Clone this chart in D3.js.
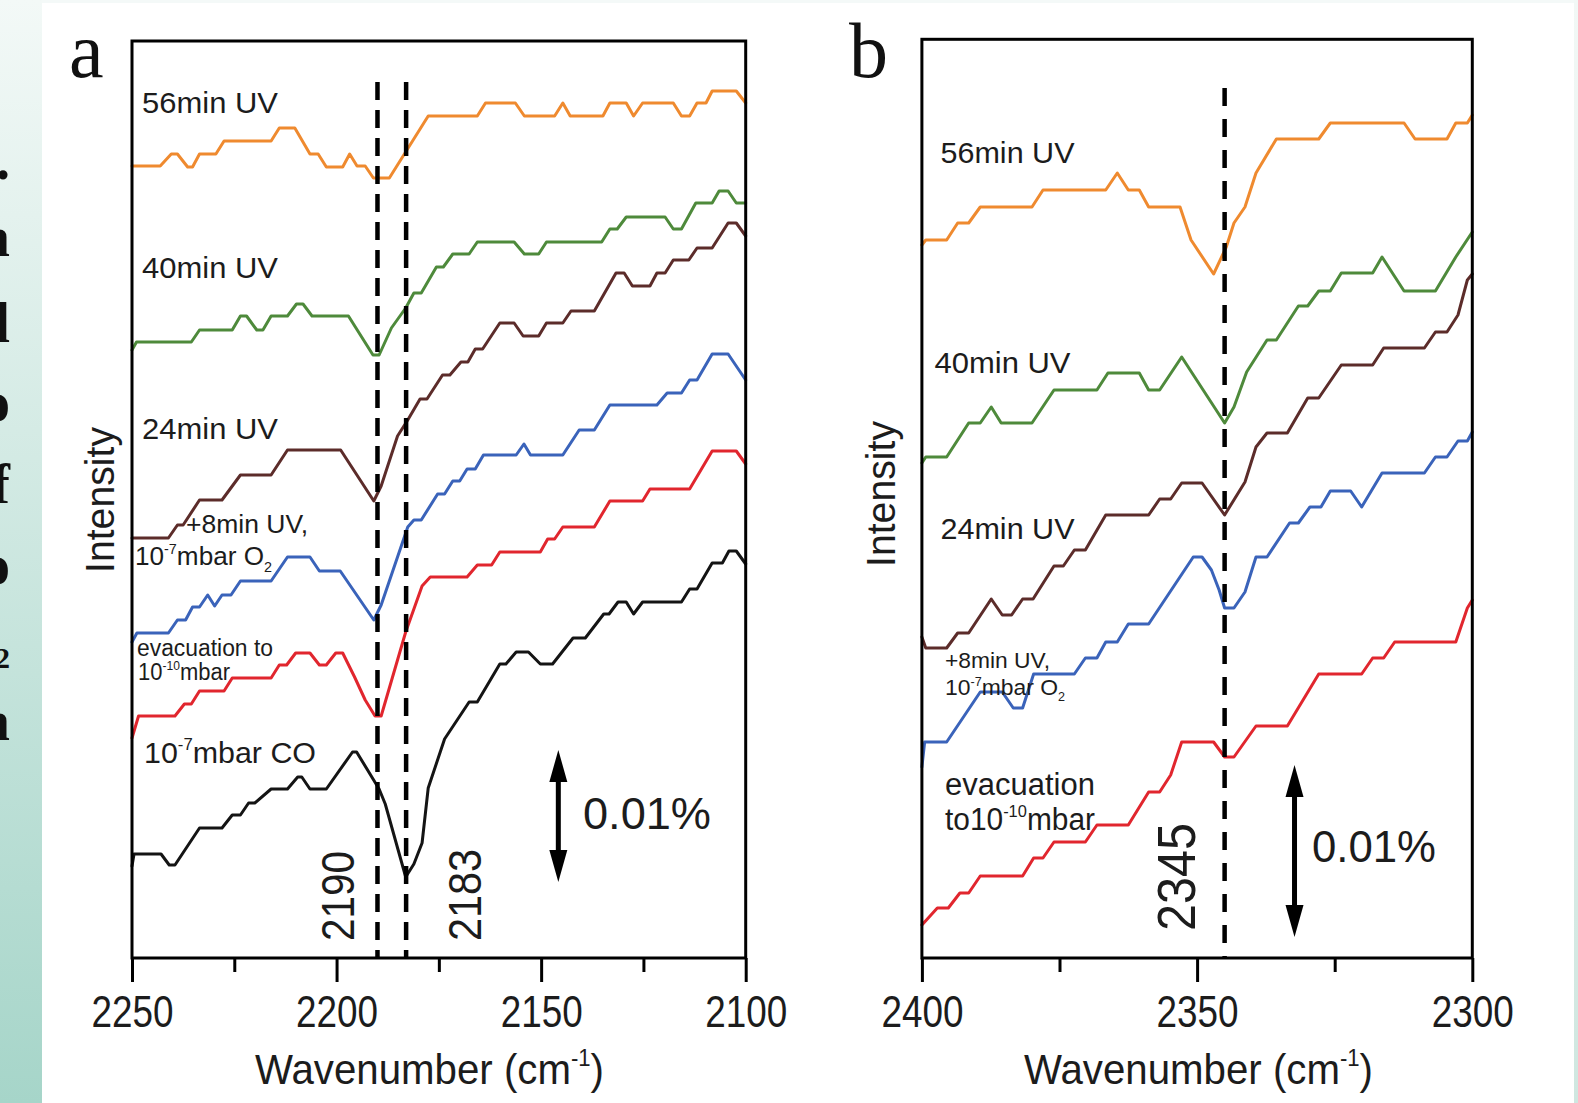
<!DOCTYPE html>
<html>
<head>
<meta charset="utf-8">
<script src="https://cdn.jsdelivr.net/npm/d3@7"></script>
<style>
  html, body { margin: 0; padding: 0; background: #ffffff; overflow: hidden; }
  svg { display: block; }
</style>
</head>
<body>
<svg id="chart" width="1578" height="1103"></svg>
<script>
// ---------------- DATA (wavenumber in cm^-1, intensity in arbitrary offset units) ----------------
// Panel a : CO region
const a56min = [[2250,792],[2243.1,792],[2240.4,804],[2238.9,804],[2236.4,791],[2235.2,791],[2233.5,804],[2229.5,804],[2227.5,817],[2216,817],[2214,830],[2210.2,830],[2206.5,804],[2204.5,804],[2202.5,791],[2198.5,791],[2196.8,804],[2195,792],[2193,792],[2191,780],[2187.1,780],[2177.6,842],[2165.6,842],[2163.6,855],[2156.3,855],[2154.1,842],[2146.7,842],[2144.7,855],[2142.9,842],[2134.9,842],[2133.2,855],[2129.2,855],[2127.4,842],[2125.2,855],[2117.7,855],[2115.7,842],[2113.7,842],[2111.9,855],[2109.7,855],[2108.2,867],[2102.3,867],[2100,855]];
const a40min = [[2250,608],[2248.9,616],[2235.5,616],[2233.5,628],[2225.5,628],[2223.5,642],[2222,642],[2219.5,628],[2218,628],[2216,642],[2212,642],[2209.8,654],[2208.2,654],[2206,642],[2197.1,642],[2191.1,603],[2189.6,603],[2186.6,630],[2183.1,650],[2181.1,665],[2179.3,665],[2175.6,691],[2173.9,691],[2171.6,704],[2167.6,704],[2165.6,716],[2156.6,716],[2154.1,704],[2150.6,704],[2148.7,716],[2135.2,716],[2133.2,729],[2131.4,729],[2129.2,741],[2119.7,741],[2117.7,729],[2115.7,729],[2112.2,755],[2108.2,755],[2106.5,767],[2104.3,767],[2102.3,755],[2100,755]];
const a24min = [[2250,420],[2241.1,420],[2238.9,433],[2237.5,433],[2233.5,458],[2228,458],[2223.5,483],[2216,483],[2212,508],[2199,508],[2190.9,457],[2189.1,472],[2185.1,522],[2182.6,538],[2179.6,559],[2177.9,559],[2174.1,583],[2172.3,583],[2169.6,596],[2167.9,596],[2166.1,609],[2164.3,609],[2160.1,635],[2156.6,635],[2154.4,622],[2150.6,622],[2148.7,635],[2144.7,635],[2142.7,647],[2137,647],[2131.7,685],[2129.7,685],[2127.7,672],[2123.4,672],[2121.7,685],[2119.7,685],[2117.7,698],[2113.9,698],[2111.9,710],[2108.2,710],[2104.3,735],[2102.3,735],[2100,722]];
const a8minO2 = [[2250,316],[2248.8,325],[2241.1,325],[2238.9,338],[2236.9,338],[2235.2,351],[2233.5,351],[2231.5,363],[2229.8,352],[2228,363],[2225.8,363],[2223.5,377],[2216,377],[2212,401],[2206.5,401],[2204.2,387],[2199.1,387],[2190.9,338],[2189.1,353],[2182.6,431],[2181.1,438],[2179.3,438],[2175.3,464],[2173.6,464],[2171.6,477],[2169.9,477],[2168.1,489],[2166.1,489],[2164.1,503],[2156.1,503],[2154.2,514],[2152.6,503],[2144.7,503],[2140.7,528],[2137,528],[2133.2,553],[2121.7,553],[2119.2,565],[2115.7,565],[2113.7,578],[2111.9,578],[2108.2,604],[2104.3,604],[2100,578]];
const aEvac = [[2250,220],[2248.4,242],[2239.5,242],[2237.2,254],[2235.5,254],[2233.5,267],[2227.5,267],[2225.5,280],[2216,280],[2214,293],[2212.2,293],[2210,305],[2206.5,305],[2204.2,293],[2202.5,293],[2200.2,305],[2198.5,305],[2195.6,281],[2193,258],[2190.6,242],[2189.1,242],[2183.1,326],[2179.1,372],[2177.1,381],[2168.1,381],[2165.6,393],[2162.1,393],[2160.1,406],[2150.2,406],[2148.4,419],[2146.7,419],[2144.7,431],[2137,431],[2133.2,457],[2125.2,457],[2123.4,469],[2113.7,469],[2108.2,507],[2102.3,507],[2100,494]];
const aCO = [[2250,92],[2249.5,104],[2242.9,104],[2240.9,93],[2239.5,93],[2233.5,130],[2228,130],[2225.5,143],[2223.5,143],[2221.5,155],[2220,155],[2216,169],[2212,169],[2209.5,181],[2208.5,181],[2206.5,169],[2202.5,169],[2196.1,206],[2195.1,206],[2189.6,169],[2188.1,154],[2183.1,81],[2181.1,94],[2179.1,115],[2177.6,170],[2173.6,219],[2167.6,256],[2165.6,256],[2160.1,294],[2158.6,294],[2156.1,306],[2153.1,306],[2150.2,294],[2147.2,294],[2142.2,320],[2139.2,320],[2134.7,344],[2133.4,344],[2131.2,356],[2129.2,356],[2127.4,344],[2125.2,356],[2115.7,356],[2113.7,369],[2111.9,369],[2108.2,395],[2105.7,395],[2104.1,407],[2102.3,407],[2100,394]];

// Panel b : CO2 region
const b56min = [[2400,713],[2399.3,718],[2395.5,718],[2393.5,735],[2391.5,735],[2389.4,751],[2380,751],[2378,768],[2366.6,768],[2364.5,785],[2362.5,768],[2360.5,768],[2358.8,751],[2353.1,751],[2351.1,718],[2347,684],[2344.7,711],[2343.3,735],[2341.3,751],[2339.3,785],[2335.6,819],[2327.9,819],[2325.8,835],[2312.4,835],[2310.4,819],[2304.6,819],[2303,835],[2300.9,835],[2300,843]];
const b40min = [[2400,495],[2399.3,501],[2395.5,501],[2391.5,535],[2389.4,535],[2387.4,551],[2385.6,535],[2380,535],[2376,568],[2368.2,568],[2366.2,585],[2360.5,585],[2358.8,568],[2356.8,568],[2352.8,601],[2345,535],[2343.3,551],[2341,586],[2337.3,618],[2335.6,618],[2331.6,652],[2329.9,652],[2327.9,667],[2325.8,667],[2323.8,685],[2318.1,685],[2316.4,701],[2312.4,667],[2306.7,667],[2303,701],[2300,726]];
const b24min = [[2400,321],[2399.3,310],[2395.5,310],[2393.5,325],[2391.5,325],[2387.4,359],[2385.4,343],[2383.7,343],[2381.7,359],[2379.8,359],[2376,392],[2374.3,392],[2372.3,408],[2370.3,408],[2366.6,443],[2358.8,443],[2356.8,459],[2354.8,459],[2352.8,475],[2349.1,475],[2345,443],[2341.3,476],[2339.3,511],[2337.3,525],[2333.6,525],[2329.9,560],[2327.9,560],[2323.8,593],[2318.1,593],[2316.1,610],[2308.7,610],[2306.7,626],[2304.6,626],[2302.6,643],[2300.9,678],[2300,684]];
const b8minO2 = [[2400,191],[2399.5,216],[2395.5,216],[2389.4,266],[2385.4,266],[2383.4,250],[2381.7,250],[2379.7,284],[2372.3,284],[2370.3,300],[2368.2,300],[2366.6,316],[2364.5,316],[2362.5,334],[2358.8,334],[2350.7,401],[2349.1,401],[2347.4,388],[2346,368],[2345,350],[2343.3,350],[2341.3,366],[2339.3,401],[2337.3,401],[2333.2,435],[2331.6,435],[2329.5,451],[2327.5,451],[2325.8,467],[2322.1,467],[2320.1,451],[2316.4,485],[2308.7,485],[2306.7,501],[2304.6,501],[2302.6,517],[2300.9,517],[2300,526]];
const bEvac = [[2400,33],[2397.2,50],[2395.2,50],[2393.1,65],[2391.5,65],[2389.4,82],[2381.7,82],[2379.7,100],[2378,100],[2376,116],[2370.3,116],[2368.2,133],[2362.5,133],[2358.8,166],[2356.8,166],[2354.8,183],[2352.8,216],[2347,216],[2345,201],[2343.3,201],[2339.3,232],[2333.6,232],[2327.9,284],[2320.1,284],[2318.1,300],[2316.1,300],[2314.1,316],[2303,316],[2300.9,350],[2300,358]];

// Ticks, markers and scale bars
const aMajorTicks = [2250, 2200, 2150, 2100];
const aMinorTicks = [2225, 2175, 2125];
const bMajorTicks = [2400, 2350, 2300];
const bMinorTicks = [2375, 2325];
const aMarkers = [2190, 2183];
const bMarkers = [2345];
const aMarkerTop = 876;
const bMarkerTop = 870;
const aScaleBar = [2145.8, 76, 208];   // wavenumber, from, to  (= 0.01 %)
const bScaleBar = [2332.3, 21, 193];
const scaleBarLabel = "0.01%";

const seriesColors = ["#ef8a2f", "#4e8a3b", "#5c2c2a", "#3a63ba", "#e1262e", "#141414"];
const aSeries = [a56min, a40min, a24min, a8minO2, aEvac, aCO];
const bSeries = [b56min, b40min, b24min, b8minO2, bEvac];

// ---------------- DRAWING ----------------
const W = 1578, H = 1103;
const SANS = "'Liberation Sans', Arial, Helvetica, sans-serif";
const SERIF = "'Liberation Serif', 'Times New Roman', serif";
const TXT = "#1c1c1c";
const svg = d3.select("#chart");
svg.append("rect").attr("width", W).attr("height", H).attr("fill", "#ffffff");

// page decorations (slide background strip with cut text)
const defs = svg.append("defs");
const g1 = defs.append("linearGradient").attr("id", "strip").attr("x1", 0).attr("y1", 0).attr("x2", 0).attr("y2", 1);
g1.append("stop").attr("offset", "0%").attr("stop-color", "#f3f9f7");
g1.append("stop").attr("offset", "100%").attr("stop-color", "#a6d5c9");
const g2 = defs.append("linearGradient").attr("id", "strip2").attr("x1", 0).attr("y1", 0).attr("x2", 0).attr("y2", 1);
g2.append("stop").attr("offset", "0%").attr("stop-color", "#f2f8f6");
g2.append("stop").attr("offset", "100%").attr("stop-color", "#cfe7e0");
svg.append("rect").attr("x", 0).attr("y", 0).attr("width", 42).attr("height", H).attr("fill", "url(#strip)");
svg.append("rect").attr("x", 1574).attr("y", 0).attr("width", 4).attr("height", H).attr("fill", "url(#strip2)");
svg.append("rect").attr("x", 42).attr("y", 0).attr("width", 1532).attr("height", 3).attr("fill", "#f4f9f8");

const stripGlyphs = [".", "n", "l", "o", "f", "o", "2", "n"];
const stripBaselines = [179, 256, 342, 421, 503, 584, 668, 740];
stripGlyphs.forEach((s, i) => {
  svg.append("text").attr("x", 10).attr("y", stripBaselines[i])
    .attr("text-anchor", "end").attr("font-family", SERIF).attr("font-weight", "bold")
    .attr("font-size", s === "2" ? 30 : 56).attr("fill", "#111").text(s);
});

function richText(g, x, y, parts, size, len, extra) {
  const t = g.append("text").attr("x", x).attr("y", y).attr("font-size", size)
    .attr("font-family", SANS).attr("fill", TXT);
  let off = 0;
  parts.forEach(([s, k]) => {
    const target = k === "sup" ? -0.42 * size : (k === "sub" ? 0.25 * size : 0);
    t.append("tspan").attr("dy", target - off).attr("font-size", k === "n" ? size : size * 0.55).text(s);
    off = target;
  });
  if (len) t.attr("textLength", len).attr("lengthAdjust", "spacingAndGlyphs");
  if (extra) extra(t);
  return t;
}

function drawPanel(cfg) {
  const x = d3.scaleLinear().domain(cfg.xDomain).range(cfg.xRange);
  const y = d3.scaleLinear().domain(cfg.yDomain).range(cfg.yRange);
  const g = svg.append("g");
  const line = d3.line().x(d => x(d[0])).y(d => y(d[1]));

  // curves
  g.selectAll("path.curve").data(cfg.series).join("path")
    .attr("class", "curve").attr("d", line).attr("fill", "none")
    .attr("stroke", (d, i) => seriesColors[i]).attr("stroke-width", 3)
    .attr("stroke-linejoin", "round").attr("stroke-linecap", "round");

  // dashed marker lines
  g.selectAll("line.marker").data(cfg.markers).join("line")
    .attr("class", "marker")
    .attr("x1", d => x(d)).attr("x2", d => x(d))
    .attr("y1", y(cfg.markerTop)).attr("y2", y(cfg.yDomain[0]))
    .attr("stroke", "#000").attr("stroke-width", 4.5).attr("stroke-dasharray", cfg.dash);

  // frame
  g.append("rect").attr("x", cfg.xRange[0]).attr("y", cfg.yRange[1])
    .attr("width", cfg.xRange[1] - cfg.xRange[0]).attr("height", cfg.yRange[0] - cfg.yRange[1])
    .attr("fill", "none").attr("stroke", "#000").attr("stroke-width", 3);

  // axes
  const axMajor = g.append("g").attr("transform", `translate(0,${cfg.yRange[0]})`)
    .call(d3.axisBottom(x).tickValues(cfg.major).tickSize(24).tickPadding(0).tickFormat(d3.format("d")));
  const axMinor = g.append("g").attr("transform", `translate(0,${cfg.yRange[0]})`)
    .call(d3.axisBottom(x).tickValues(cfg.minor).tickSize(14).tickFormat(""));
  [axMajor, axMinor].forEach(a => {
    a.select(".domain").remove();
    a.selectAll("line").attr("stroke", "#000").attr("stroke-width", 3);
  });
  axMajor.selectAll("text").attr("y", 69).attr("dy", 0)
    .attr("font-size", 45).attr("font-family", SANS).attr("fill", TXT)
    .attr("textLength", 82).attr("lengthAdjust", "spacingAndGlyphs");

  // axis titles
  richText(g, cfg.titleX, 1084, [["Wavenumber (cm", "n"], ["-1", "sup"], [")", "n"]], 43, 349);
  g.append("text").attr("transform", `translate(${cfg.intX},${cfg.intY}) rotate(-90)`)
    .attr("text-anchor", "middle").attr("font-family", SANS).attr("font-size", 40)
    .attr("fill", TXT).attr("textLength", 146).attr("lengthAdjust", "spacingAndGlyphs").text("Intensity");

  // panel letter
  g.append("text").attr("x", cfg.letterX).attr("y", 77).attr("font-family", SERIF)
    .attr("font-size", 78).attr("fill", "#111").text(cfg.letter);

  // peak position labels (rotated)
  cfg.peakLabels.forEach(p => {
    g.append("text").attr("transform", `translate(${p[1]},${p[2]}) rotate(-90)`)
      .attr("font-family", SANS).attr("font-size", p[3]).attr("fill", TXT)
      .attr("textLength", p[4]).attr("lengthAdjust", "spacingAndGlyphs").text(p[0]);
  });

  // scale bar
  const sb = cfg.scaleBar;
  const sx = x(sb[0]), sTop = y(sb[2]), sBot = y(sb[1]);
  g.append("line").attr("x1", sx).attr("x2", sx).attr("y1", sTop + 20).attr("y2", sBot - 20)
    .attr("stroke", "#000").attr("stroke-width", 5);
  g.append("path").attr("d", `M${sx},${sTop} L${sx - 9},${sTop + 32} L${sx + 9},${sTop + 32} Z`).attr("fill", "#000");
  g.append("path").attr("d", `M${sx},${sBot} L${sx - 9},${sBot - 32} L${sx + 9},${sBot - 32} Z`).attr("fill", "#000");
  g.append("text").attr("x", cfg.sbTextX).attr("y", cfg.sbTextY).attr("font-family", SANS)
    .attr("font-size", 44).attr("fill", TXT).attr("textLength", cfg.sbTextLen)
    .attr("lengthAdjust", "spacingAndGlyphs").text(scaleBarLabel);

  // series labels
  cfg.labels.forEach(l => richText(g, l[0], l[1], l[2], l[3], l[4]));
}

drawPanel({
  xDomain: [2250, 2100], xRange: [132, 745.7],
  yDomain: [0, 917], yRange: [958, 41],
  series: aSeries, markers: aMarkers, markerTop: aMarkerTop, dash: "18,10",
  major: aMajorTicks, minor: aMinorTicks,
  titleX: 255, intX: 114, intY: 500, letter: "a", letterX: 69,
  peakLabels: [["2190", 354, 941, 47, 90], ["2183", 481, 941, 47, 92]],
  scaleBar: aScaleBar, sbTextX: 583, sbTextY: 829, sbTextLen: 128,
  labels: [
    [142, 112.7, [["56min UV", "n"]], 30, 136],
    [142, 278, [["40min UV", "n"]], 30, 136],
    [142, 439, [["24min UV", "n"]], 30, 136],
    [186, 533, [["+8min UV,", "n"]], 26, 122],
    [135, 565, [["10", "n"], ["-7", "sup"], ["mbar O", "n"], ["2", "sub"]], 26, 137],
    [137, 656, [["evacuation to", "n"]], 23, 136],
    [138, 680, [["10", "n"], ["-10", "sup"], ["mbar", "n"]], 23, 92],
    [144, 762.5, [["10", "n"], ["-7", "sup"], ["mbar CO", "n"]], 30, 172]
  ]
});

drawPanel({
  xDomain: [2400, 2300], xRange: [921.9, 1472.3],
  yDomain: [0, 918.7], yRange: [958, 39.3],
  series: bSeries, markers: bMarkers, markerTop: bMarkerTop, dash: "18,13",
  major: bMajorTicks, minor: bMinorTicks,
  titleX: 1024, intX: 895, intY: 494, letter: "b", letterX: 849,
  peakLabels: [["2345", 1194.5, 931, 54, 108]],
  scaleBar: bScaleBar, sbTextX: 1312, sbTextY: 861.5, sbTextLen: 124,
  labels: [
    [940.5, 163.3, [["56min UV", "n"]], 30, 134],
    [934.5, 373.3, [["40min UV", "n"]], 30, 136],
    [940.5, 539.3, [["24min UV", "n"]], 30, 134],
    [945, 668.3, [["+8min UV,", "n"]], 22.5, 105],
    [945, 695, [["10", "n"], ["-7", "sup"], ["mbar O", "n"], ["2", "sub"]], 22.5, 120],
    [945, 795, [["evacuation", "n"]], 31, 150],
    [945, 830, [["to10", "n"], ["-10", "sup"], ["mbar", "n"]], 31, 150]
  ]
});
</script>
</body>
</html>
